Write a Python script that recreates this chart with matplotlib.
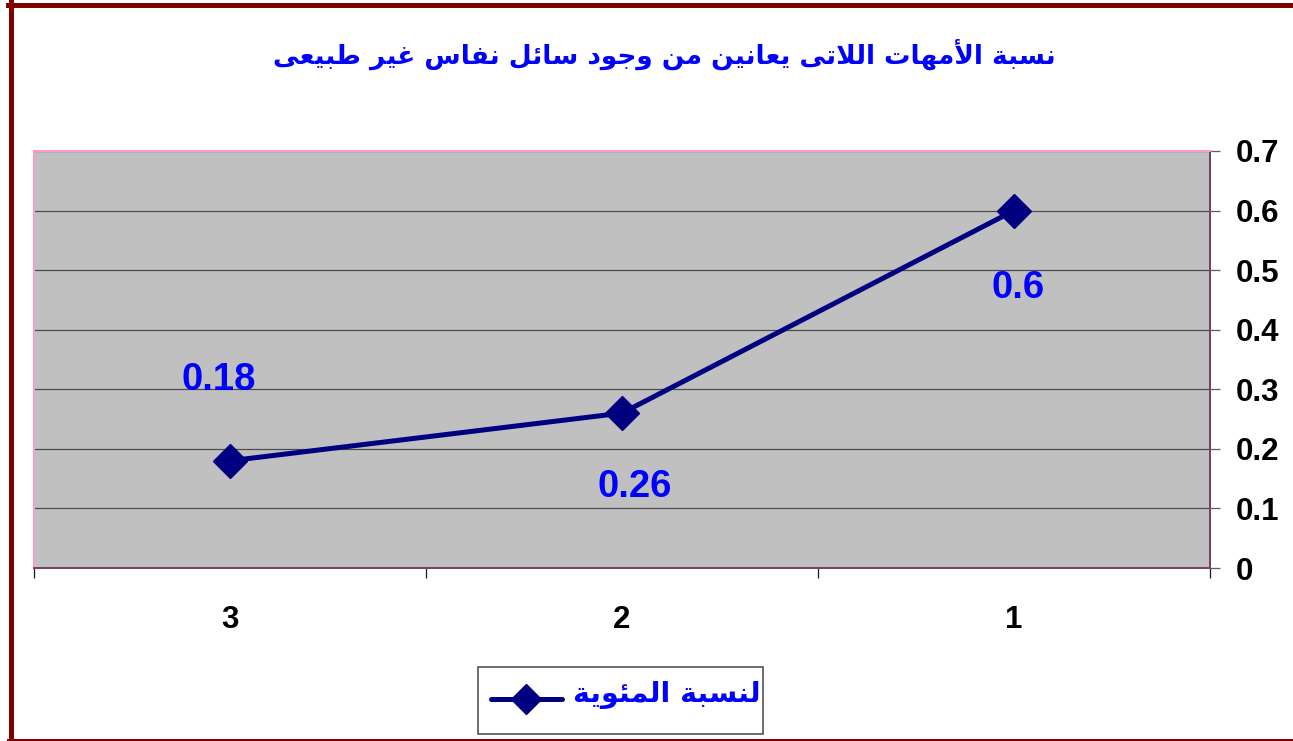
import matplotlib

matplotlib.use("Agg")
import matplotlib.pyplot as plt
from matplotlib.lines import Line2D
from matplotlib.patches import Rectangle

categories = ["1", "2", "3"]
values = [0.6, 0.26, 0.18]
y_ticks = [0, 0.1, 0.2, 0.3, 0.4, 0.5, 0.6, 0.7]
title_text = "نسبة الأمهات اللاتى يعانين من وجود سائل نفاس غير طبيعى"
series_name = "لنسبة المئوية"

# label offsets in points (Excel labels were dragged by hand)
label_offsets = [(3, -56), (9, -53), (-8, 58)]

# --- minimal Arabic shaping: matplotlib does no joining and no RTL -------
# forms: (isolated, final, initial, medial); 2 entries = joins right only
_FORMS = {
    "\u0621": (0xFE80,),
    "\u0622": (0xFE81, 0xFE82),
    "\u0623": (0xFE83, 0xFE84),
    "\u0624": (0xFE85, 0xFE86),
    "\u0625": (0xFE87, 0xFE88),
    "\u0626": (0xFE89, 0xFE8A, 0xFE8B, 0xFE8C),
    "\u0627": (0xFE8D, 0xFE8E),
    "\u0628": (0xFE8F, 0xFE90, 0xFE91, 0xFE92),
    "\u0629": (0xFE93, 0xFE94),
    "\u062A": (0xFE95, 0xFE96, 0xFE97, 0xFE98),
    "\u062B": (0xFE99, 0xFE9A, 0xFE9B, 0xFE9C),
    "\u062C": (0xFE9D, 0xFE9E, 0xFE9F, 0xFEA0),
    "\u062D": (0xFEA1, 0xFEA2, 0xFEA3, 0xFEA4),
    "\u062E": (0xFEA5, 0xFEA6, 0xFEA7, 0xFEA8),
    "\u062F": (0xFEA9, 0xFEAA),
    "\u0630": (0xFEAB, 0xFEAC),
    "\u0631": (0xFEAD, 0xFEAE),
    "\u0632": (0xFEAF, 0xFEB0),
    "\u0633": (0xFEB1, 0xFEB2, 0xFEB3, 0xFEB4),
    "\u0634": (0xFEB5, 0xFEB6, 0xFEB7, 0xFEB8),
    "\u0635": (0xFEB9, 0xFEBA, 0xFEBB, 0xFEBC),
    "\u0636": (0xFEBD, 0xFEBE, 0xFEBF, 0xFEC0),
    "\u0637": (0xFEC1, 0xFEC2, 0xFEC3, 0xFEC4),
    "\u0638": (0xFEC5, 0xFEC6, 0xFEC7, 0xFEC8),
    "\u0639": (0xFEC9, 0xFECA, 0xFECB, 0xFECC),
    "\u063A": (0xFECD, 0xFECE, 0xFECF, 0xFED0),
    "\u0641": (0xFED1, 0xFED2, 0xFED3, 0xFED4),
    "\u0642": (0xFED5, 0xFED6, 0xFED7, 0xFED8),
    "\u0643": (0xFED9, 0xFEDA, 0xFEDB, 0xFEDC),
    "\u0644": (0xFEDD, 0xFEDE, 0xFEDF, 0xFEE0),
    "\u0645": (0xFEE1, 0xFEE2, 0xFEE3, 0xFEE4),
    "\u0646": (0xFEE5, 0xFEE6, 0xFEE7, 0xFEE8),
    "\u0647": (0xFEE9, 0xFEEA, 0xFEEB, 0xFEEC),
    "\u0648": (0xFEED, 0xFEEE),
    "\u0649": (0xFEEF, 0xFEF0),
    "\u064A": (0xFEF1, 0xFEF2, 0xFEF3, 0xFEF4),
}
_LAM_ALEF = {
    "\u0622": (0xFEF5, 0xFEF6),
    "\u0623": (0xFEF7, 0xFEF8),
    "\u0625": (0xFEF9, 0xFEFA),
    "\u0627": (0xFEFB, 0xFEFC),
}


def _dual(glyph):
    kind, c = glyph
    return kind == "C" and len(_FORMS.get(c, ())) == 4


def shape_arabic(text):
    words = []
    for word in text.split(" "):
        glyphs = []
        i = 0
        while i < len(word):
            c = word[i]
            if c == "\u0644" and i + 1 < len(word) and word[i + 1] in _LAM_ALEF:
                glyphs.append(("LA", word[i + 1]))
                i += 2
            else:
                glyphs.append(("C", c))
                i += 1
        res = []
        for k, (kind, c) in enumerate(glyphs):
            prev_joins = k > 0 and _dual(glyphs[k - 1])
            if kind == "LA":
                iso, fin = _LAM_ALEF[c]
                res.append(chr(fin if prev_joins else iso))
                continue
            forms = _FORMS.get(c)
            if forms is None:
                res.append(c)
                continue
            if len(forms) == 1:
                res.append(chr(forms[0]))
                continue
            next_joins = len(forms) == 4 and k + 1 < len(glyphs)
            if prev_joins and next_joins:
                f = forms[3]
            elif prev_joins:
                f = forms[1]
            elif next_joins:
                f = forms[2]
            else:
                f = forms[0]
            res.append(chr(f))
        words.append("".join(res))
    return " ".join(words)[::-1]


W, H = 1293, 741
NUM_FONT = ["Liberation Sans", "DejaVu Sans"]
AR_FONT = ["DejaVu Sans"]
PX = 72 / 100  # points per pixel at dpi 100
NAVY = "#000080"
BLUE = "#0000FF"


def fx(px):
    return px / W


def fy(px):
    return 1 - px / H


fig = plt.figure(figsize=(W / 100, H / 100), dpi=100)
fig.patch.set_facecolor("white")

# dark red chart border (only top, left and a sliver of the bottom are visible)
border = "#800000"
fig.add_artist(Line2D([fx(8), 1], [fy(4.5)] * 2, color=border, lw=5 * PX, transform=fig.transFigure))
fig.add_artist(Line2D([fx(10.5)] * 2, [0, fy(2)], color=border, lw=5 * PX, transform=fig.transFigure))
fig.add_artist(Line2D([fx(8), 1], [fy(740)] * 2, color=border, lw=3 * PX, transform=fig.transFigure))

ax = fig.add_axes([fx(34), fy(568), 1176 / W, 417 / H])
ax.set_facecolor("#C0C0C0")

x = list(range(1, len(categories) + 1))
ax.plot(x, values, color=NAVY, lw=5 * PX, marker="D", ms=24 * PX, zorder=3, clip_on=False)

for xi, v, off in zip(x, values, label_offsets):
    ax.annotate(f"{v:g}", (xi, v), xytext=off, textcoords="offset points",
                ha="center", va="center", color=BLUE, fontsize=27.5,
                fontweight="bold", family=NUM_FONT)

ax.set_xlim(len(categories) + 0.5, 0.5)
ax.set_ylim(0, 0.7)

ax.set_yticks(y_ticks)
ax.set_yticklabels([f"{v:g}" for v in y_ticks], family=NUM_FONT, fontweight="bold", fontsize=22.5)
ax.yaxis.tick_right()
ax.yaxis.grid(True, color="#4A4A4A", lw=1.2 * PX)
ax.set_axisbelow(True)
ax.tick_params(axis="y", direction="out", length=10 * PX, width=1.3 * PX, color="#606060", pad=11)

ax.set_xticks(x)
ax.set_xticklabels(categories, family=NUM_FONT, fontweight="bold", fontsize=22.5)
ax.set_xticks([v + 0.5 for v in range(0, len(categories) + 1)], minor=True)
ax.tick_params(axis="x", which="major", length=0, pad=27)
ax.tick_params(axis="x", which="minor", direction="out", length=10 * PX, width=1.3 * PX, color="#202020")

for side in ("left", "top"):
    ax.spines[side].set_color("#FF99CC")
    ax.spines[side].set_linewidth(2 * PX)
for side in ("right", "bottom"):
    ax.spines[side].set_color("#7E3F62")
    ax.spines[side].set_linewidth(2 * PX)

fig.text(fx(664), fy(54), shape_arabic(title_text), ha="center", va="center",
         fontsize=19, color=BLUE, fontweight="bold", family=AR_FONT)

# legend box drawn by hand so the sample and text sit like Excel's
fig.add_artist(Rectangle((fx(478), fy(734)), (763 - 478) / W, (734 - 667) / H,
                         transform=fig.transFigure, facecolor="white",
                         edgecolor="#404040", lw=1.5 * PX))
fig.add_artist(Line2D([fx(491), fx(562)], [fy(699)] * 2, color=NAVY, lw=5 * PX,
                      solid_capstyle="round", transform=fig.transFigure))
fig.add_artist(Line2D([fx(526)], [fy(699)], color=NAVY, marker="D", ms=21 * PX,
                      transform=fig.transFigure))
fig.text(fx(761), fy(695), shape_arabic(series_name), ha="right", va="center",
         fontsize=20.5, color=BLUE, fontweight="bold", family=AR_FONT)

fig.savefig("out.png", dpi=100)
